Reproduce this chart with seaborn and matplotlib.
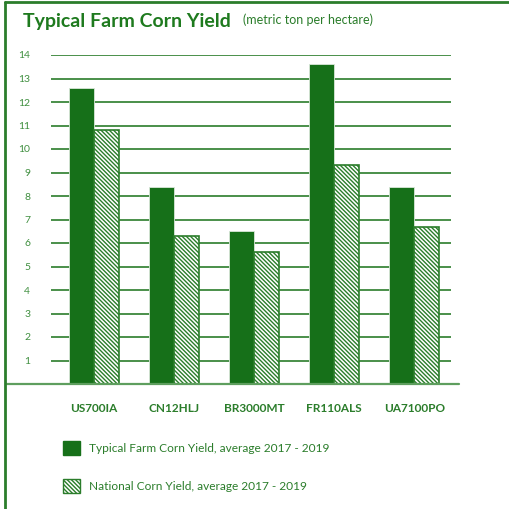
import pandas as pd
import seaborn as sns
import matplotlib.pyplot as plt
import matplotlib.lines as mlines

# data
farms = ["US700IA", "CN12HLJ", "BR3000MT", "FR110ALS", "UA7100PO"]
typical_yield = [12.6, 8.4, 6.5, 13.6, 8.4]
national_yield = [10.8, 6.3, 5.6, 9.3, 6.7]
series_names = ["Typical Farm Corn Yield, average 2017 - 2019",
                "National Corn Yield, average 2017 - 2019"]
y_ticks = list(range(1, 15))

DARK = "#167019"
GREEN = "#2b7d2b"
LIGHT_TEXT = "#3f8f3f"
HATCH = "\\" * 8

df = pd.DataFrame({
    "farm": farms * 2,
    "yield": typical_yield + national_yield,
    "series": [series_names[0]] * len(farms) + [series_names[1]] * len(farms),
})

sns.set_theme(style="white")
plt.rcParams["font.family"] = ["Lato", "DejaVu Sans"]
plt.rcParams["hatch.linewidth"] = 1.0
plt.rcParams["hatch.color"] = GREEN

fig = plt.figure(figsize=(5.1, 5.09), dpi=100)
ax = fig.add_axes([51 / 510, 1 - 384 / 509, 400 / 510, 329 / 509])

sns.barplot(data=df, x="farm", y="yield", hue="series", order=farms,
            hue_order=series_names, palette=[DARK, "white"], width=0.62,
            gap=0, saturation=1, ax=ax)

n = len(farms)
for i, bar in enumerate(ax.patches[:2 * n]):
    if i < n:
        bar.set_edgecolor("#d9e8d9")
        bar.set_linewidth(0.6)
    else:
        bar.set_hatch(HATCH)
        bar.set_edgecolor(GREEN)
        bar.set_linewidth(1.2)

ax.set_xlim(-0.54, 4.46)
ax.set_ylim(0, 14)
ax.set_yticks(y_ticks)
ax.set_yticklabels([str(t) for t in y_ticks])
ax.tick_params(axis="y", length=0, pad=15, labelsize=7.5, labelcolor=LIGHT_TEXT)
ax.tick_params(axis="x", length=0, pad=14, labelsize=8.5, labelcolor=GREEN)
for lab in ax.get_xticklabels():
    lab.set_fontweight("bold")
ax.set_xlabel("")
ax.set_ylabel("")
ax.grid(axis="y", color=GREEN, linewidth=1.2)
ax.set_axisbelow(True)
sns.despine(ax=ax, left=True, bottom=True)

# baseline running past the grid
ax.add_line(mlines.Line2D([-0.11, 1.02], [0, 0], transform=ax.get_yaxis_transform(),
                          color="#5e9e5e", linewidth=1.6, clip_on=False))

# frame around the figure (left and top)
fig.add_artist(mlines.Line2D([5 / 510, 5 / 510], [0, 1 - 2 / 509], color=GREEN,
                             linewidth=2, transform=fig.transFigure))
fig.add_artist(mlines.Line2D([5 / 510, 1], [1 - 2 / 509, 1 - 2 / 509], color=GREEN,
                             linewidth=2, transform=fig.transFigure))

fig.text(23 / 510, 1 - 22 / 509, "Typical Farm Corn Yield", fontsize=14,
         fontweight="bold", color="#1e7a1e", va="center", ha="left")
fig.text(243 / 510, 1 - 20 / 509, "(metric ton per hectare)", fontsize=9,
         color="#2b7d2b", va="center", ha="left")

handles, labels = ax.get_legend_handles_labels()
handles[1].set_hatch(HATCH)
handles[1].set_edgecolor(GREEN)
handles[0].set_edgecolor(DARK)
ax.legend(handles, labels, loc="upper left", bbox_to_anchor=(63 / 510, 1 - 441 / 509),
          bbox_transform=fig.transFigure, frameon=False, fontsize=8.6,
          labelcolor="#2b7d2b", handlelength=1.45, handleheight=1.45,
          handletextpad=0.75, labelspacing=2.0, borderaxespad=0, borderpad=0)

fig.savefig("out.png", dpi=100)
